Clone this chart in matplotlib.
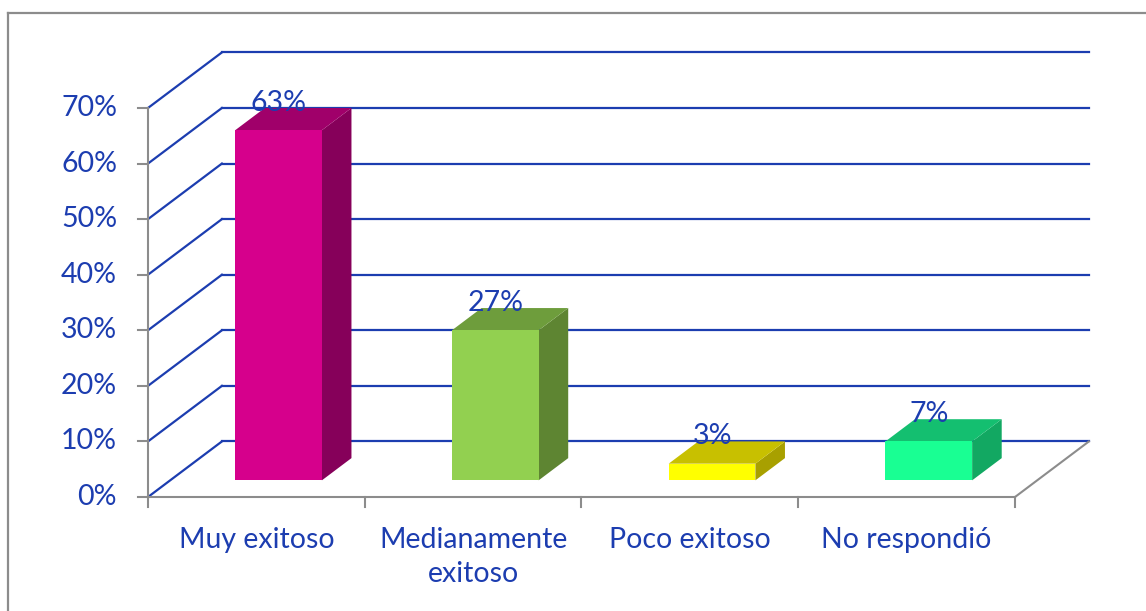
import matplotlib.pyplot as plt
from matplotlib.patches import Polygon
import numpy as np

plt.rcParams['font.family'] = ['Lato', 'DejaVu Sans']

# datos
categorias = ['Muy exitoso', 'Medianamente\nexitoso', 'Poco exitoso', 'No respondió']
valores = [63, 27, 3, 7]
etiquetas = ['63%', '27%', '3%', '7%']
ticks_y = [0, 10, 20, 30, 40, 50, 60, 70]

# colores: frente, tapa, lateral
col_frente = ['#d6008c', '#92d050', '#ffff00', '#19ff93']
col_tapa = ['#a0006a', '#6e9d3c', '#c8c000', '#14bf70']
col_lado = ['#86005a', '#5e8532', '#a8a000', '#12a862']

azul = '#1c3db0'
gris = '#8c8c8c'
fs = 20.5

# profundidad del efecto 3D (en unidades de datos)
dx, dy = 0.341, 10.0
ancho = 0.4
z0, z1 = 0.3, 0.7

fig = plt.figure(figsize=(11.46, 6.11), dpi=100)
ax = fig.add_axes([0, 0, 1, 1])
ax.set_xlim(-0.6828, 4.6044)
ax.set_ylim(-20.51, 89.43)
ax.axis('off')

# marco del grafico
fig.add_artist(plt.Line2D([8/1146, 8/1146], [0, 598/611], color=gris, lw=1.6))
fig.add_artist(plt.Line2D([8/1146, 1], [598/611, 598/611], color=gris, lw=1.6))

n = len(categorias)

# lineas de division en la pared y el piso
for v in ticks_y:
    ax.plot([0, dx], [v, v + dy], color=azul, lw=1.6, zorder=1)
    ax.plot([dx, n + dx], [v + dy, v + dy], color=azul, lw=1.6, zorder=1)
    ax.plot([-0.046, 0], [v, v], color=gris, lw=1.5, zorder=2)
    ax.text(-0.143, v, f'{v}%', ha='right', va='center', fontsize=fs, color=azul)

ax.plot([0, 0], [0, ticks_y[-1]], color=gris, lw=1.5, zorder=2)
ax.plot([0, n], [0, 0], color=gris, lw=1.5, zorder=2)
ax.plot([n, n + dx], [0, dy], color=gris, lw=1.5, zorder=2)
for i in range(n + 1):
    ax.plot([i, i], [0, -1.8], color=gris, lw=1.5, zorder=2)

# barras 3D
for i, v in enumerate(valores):
    c = i + 0.5
    x0 = c - ancho / 2 + z0 * dx
    x1 = c + ancho / 2 + z0 * dx
    yb = z0 * dy
    yt = yb + v
    px, py = (z1 - z0) * dx, (z1 - z0) * dy
    frente = [(x0, yb), (x1, yb), (x1, yt), (x0, yt)]
    tapa = [(x0, yt), (x1, yt), (x1 + px, yt + py), (x0 + px, yt + py)]
    lado = [(x1, yb), (x1 + px, yb + py), (x1 + px, yt + py), (x1, yt)]
    ax.add_patch(Polygon(lado, closed=True, fc=col_lado[i], ec='none', zorder=3))
    ax.add_patch(Polygon(tapa, closed=True, fc=col_tapa[i], ec='none', zorder=3))
    ax.add_patch(Polygon(frente, closed=True, fc=col_frente[i], ec='none', zorder=4))
    ax.text(c + z0 * dx, yt + py - 0.5, etiquetas[i], ha='center', va='baseline',
            fontsize=fs, color=azul, zorder=5)
    ax.text(c, -5.4, categorias[i], ha='center', va='top', fontsize=fs,
            color=azul, linespacing=1.37)

fig.savefig('out.png', dpi=100)
